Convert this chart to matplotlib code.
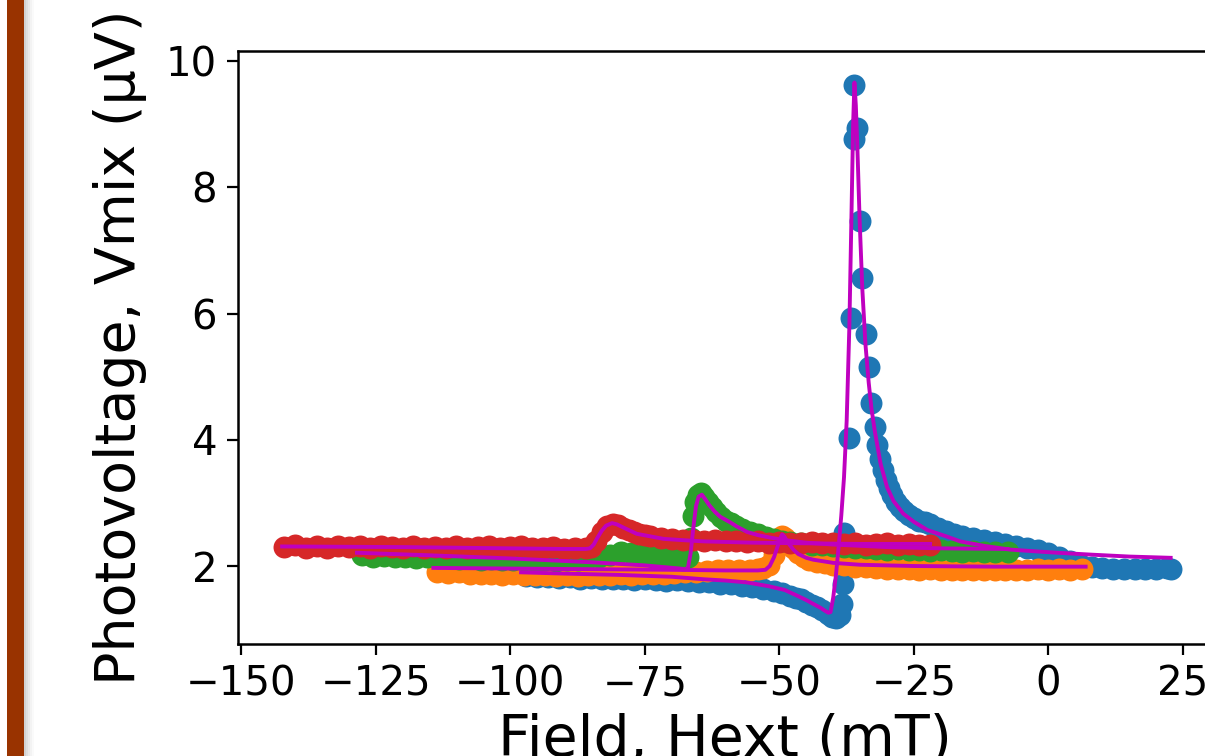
##########################################################
# Photovoltage vs external field, 4 sweeps + fit curves
##########################################################

import numpy as np
import matplotlib
matplotlib.use('Agg')
import matplotlib.pyplot as plt
from matplotlib.patches import Rectangle


##########################################################
## Part 1:  Data
##########################################################

# blue sweep
blue_H = [-97, -95, -93, -91, -89, -87, -85, -83, -81, -79, -77, -75, -73, -71, -69,
          -67, -65, -63, -61, -59, -57, -55, -53, -51, -49.5, -48, -47, -46, -45, -44,
          -43, -42, -41, -40.2, -39.4, -38.8, -38.4, -38.1, -38.0, -37.1, -36.7, -36.2,
          -36.06, -35.6, -35.1, -34.6, -34.0, -33.4, -32.9, -32.3, -31.8, -31.3, -30.8,
          -30.2, -29.6, -29.0, -28.3, -27.6, -26.8, -26.0, -25.0, -24.0, -23.0, -22.0,
          -20.5, -19.0, -17.5, -16.0, -14.0, -12.0, -10.0, -8.0, -6.0, -4.0, -2.0, 0.0,
          2.0, 4.0, 6.0, 8.0, 10.0, 12.0, 14.0, 16.0, 18.0, 20.0, 22.0, 22.7]
blue_V = [1.84, 1.82, 1.83, 1.81, 1.82, 1.80, 1.81, 1.79, 1.80, 1.80, 1.78, 1.79, 1.78, 1.77, 1.78,
          1.76, 1.75, 1.74, 1.72, 1.71, 1.69, 1.67, 1.64, 1.60, 1.57, 1.53, 1.50, 1.47, 1.43, 1.39,
          1.35, 1.30, 1.24, 1.19, 1.17, 1.22, 1.40, 1.72, 2.52, 4.03, 5.93, 8.76,
          9.62, 8.94, 7.46, 6.56, 5.67, 5.15, 4.59, 4.21, 3.92, 3.70, 3.52,
          3.37, 3.24, 3.12, 3.02, 2.94, 2.87, 2.81, 2.76, 2.72, 2.69, 2.66,
          2.61, 2.56, 2.51, 2.47, 2.44, 2.41, 2.38, 2.35, 2.32, 2.29, 2.25, 2.21,
          2.15, 2.08, 2.02, 1.99, 1.97, 1.96, 1.95, 1.96, 1.95, 1.96, 1.97, 1.96]

# orange sweep
orange_H = [-113.6, -111.5, -109.5, -107.5, -105.5, -103.5, -101.5, -99.5, -97.5, -95.5,
            -93.5, -91.5, -89.5, -87.5, -85.5, -83.5, -81.5, -79.5, -77.5, -75.5, -73.5,
            -71.5, -69.5, -67.5, -65.5, -63.5, -61.5, -59.5, -57.5, -55.5, -54, -53, -52,
            -51, -50.3, -49.6, -49.0, -48.3, -47.5, -46.5, -45.5, -44.5, -43.0, -41.5,
            -40, -38, -36, -34, -32, -30, -28, -26, -24, -22, -20, -18, -16, -14, -12,
            -10, -8, -6, -4, -2, 0, 2, 4, 6.3]
orange_V = [1.91, 1.89, 1.90, 1.88, 1.87, 1.88, 1.86, 1.87, 1.85, 1.86,
            1.85, 1.84, 1.85, 1.84, 1.85, 1.86, 1.85, 1.87, 1.86, 1.87, 1.88,
            1.87, 1.89, 1.90, 1.91, 1.92, 1.93, 1.93, 1.94, 1.94, 1.95, 1.97, 2.02,
            2.18, 2.36, 2.47, 2.45, 2.38, 2.28, 2.20, 2.14, 2.10, 2.06, 2.04,
            2.02, 2.01, 1.99, 1.98, 1.97, 1.96, 1.95, 1.96, 1.94, 1.95, 1.94, 1.93, 1.94, 1.93, 1.94,
            1.93, 1.94, 1.93, 1.94, 1.95, 1.94, 1.95, 1.94, 1.95]

# green sweep
green_H = [-127.5, -125.5, -123.5, -121.5, -119.5, -117.5, -115.5, -113.5, -111.5, -109.5,
           -107.5, -105.5, -103.5, -101.5, -99.5, -97.5, -95.5, -93.5, -91.5, -89.5,
           -87.5, -85.5, -83.5, -81.5, -79.5, -77.5, -75.5, -73.5, -71.5, -69.5, -68,
           -67, -66.5, -66.1, -65.7, -65.2, -64.6, -64.0, -63.3, -62.5, -61.7, -60.8,
           -59.9, -59.0, -58.0, -57.0, -55.5, -54.0, -52.5, -51.0, -49.5, -48, -46, -44,
           -42, -40, -38, -36, -34, -32, -30, -28, -26, -24, -22, -20, -18, -16, -14,
           -12, -10, -7.6]
green_V = [2.17, 2.15, 2.16, 2.14, 2.15, 2.13, 2.14, 2.12, 2.13, 2.11,
           2.12, 2.10, 2.11, 2.10, 2.09, 2.10, 2.08, 2.09, 2.08, 2.09,
           2.10, 2.12, 2.14, 2.18, 2.22, 2.20, 2.17, 2.15, 2.13, 2.11, 2.10,
           2.14, 2.45, 2.80, 3.02, 3.13, 3.15, 3.10, 3.02, 2.94, 2.86, 2.78,
           2.72, 2.68, 2.63, 2.59, 2.54, 2.50, 2.46, 2.43, 2.40, 2.38, 2.36, 2.34,
           2.33, 2.31, 2.30, 2.29, 2.28, 2.27, 2.26, 2.27, 2.25, 2.26, 2.24, 2.25, 2.24, 2.23, 2.24,
           2.22, 2.23, 2.22]

# red sweep
red_H = [-142, -140, -138, -136, -134, -132, -130, -128, -126, -124, -122, -120, -118,
         -116, -114, -112, -110, -108, -106, -104, -102, -100, -98, -96, -94, -92, -90,
         -88, -86, -85, -84, -83, -82, -81, -80, -79, -78, -77, -76, -75, -74, -72, -70,
         -68, -66, -64, -62, -60, -58, -56, -54, -52, -50, -48, -46, -44, -42, -40, -38,
         -36, -34, -32, -30, -28, -26, -24, -22]
red_V = [2.30, 2.33, 2.29, 2.31, 2.28, 2.31, 2.30, 2.32, 2.29, 2.31, 2.30, 2.28, 2.31,
         2.29, 2.30, 2.28, 2.31, 2.29, 2.30, 2.31, 2.28, 2.30, 2.32, 2.29, 2.28, 2.30, 2.27,
         2.29, 2.28, 2.30, 2.40, 2.54, 2.63, 2.66, 2.65, 2.61, 2.57, 2.54, 2.51, 2.49, 2.47, 2.45, 2.43,
         2.42, 2.41, 2.40, 2.41, 2.39, 2.40, 2.38, 2.39, 2.37, 2.38, 2.36, 2.37, 2.38, 2.36, 2.37, 2.35,
         2.36, 2.34, 2.35, 2.36, 2.34, 2.35, 2.33, 2.34]

# fit curves (magenta)
blue_fit_H = [-98, -90, -80, -70, -64, -60, -56, -52, -49, -46.7, -45, -43.5, -42.4, -41.5,
              -40.9, -40.5, -40.0, -39.5, -39.0, -38.5, -38.0, -37.5, -37.0, -36.6, -36.3,
              -36.06, -35.8, -35.5, -35.1, -34.6, -34.0, -33.4, -32.9, -32.3, -31.2, -30.0,
              -28.8, -27.0, -25.0, -22.5, -19.0, -16.4, -12.0, -7.1, -2.0, 1.7, 8.0, 15.0, 22.7]
blue_fit_V = [1.90, 1.88, 1.86, 1.83, 1.79, 1.77, 1.74, 1.68, 1.62, 1.53, 1.46, 1.39, 1.34, 1.29,
              1.26, 1.27, 1.50, 1.85, 2.30, 2.80, 3.40, 4.30, 5.80, 7.60, 9.00,
              9.66, 9.30, 8.60, 7.50, 6.40, 5.50, 4.90, 4.50, 4.15, 3.62, 3.25,
              3.03, 2.83, 2.70, 2.57, 2.47, 2.39, 2.32, 2.26, 2.23, 2.21, 2.18, 2.15, 2.13]

orange_fit_H = [-114.3, -100, -85, -70, -60, -54, -52.6, -51.8, -51.0, -50.3, -49.8, -49.5,
                -49.1, -48.5, -47.4, -46.5, -45.0, -43.7, -40.0, -35.0, -25.0, -10.0, 6.9]
orange_fit_V = [1.97, 1.96, 1.95, 1.94, 1.93, 1.93, 1.94, 2.00, 2.14, 2.32, 2.45, 2.50,
                2.47, 2.38, 2.26, 2.19, 2.13, 2.10, 2.05, 2.02, 2.00, 1.99, 1.99]

green_fit_H = [-128.5, -115, -100, -85, -75, -68.5, -67.5, -67.0, -66.5, -66.0, -65.5, -65.0,
               -64.4, -63.8, -63.0, -62.0, -61.0, -59.1, -58.0, -56.0, -54.0, -51.7, -49.0,
               -45.0, -40.0, -30.0, -20.0, -7.6]
green_fit_V = [2.21, 2.17, 2.12, 2.06, 2.01, 1.96, 1.95, 1.97, 2.20, 2.60, 2.95, 3.10,
               3.13, 3.06, 2.96, 2.86, 2.78, 2.69, 2.63, 2.54, 2.49, 2.45, 2.41,
               2.37, 2.34, 2.30, 2.28, 2.27]

red_fit_H = [-142.4, -120, -100, -90, -86, -85.2, -84.5, -83.8, -83.0, -82.2, -81.1, -80.2,
             -79.0, -77.5, -76.5, -74.0, -71.5, -68.0, -64.0, -55.0, -45.0, -35.0, -22.0]
red_fit_V = [2.31, 2.30, 2.28, 2.27, 2.27, 2.28, 2.34, 2.45, 2.56, 2.64, 2.68, 2.66,
             2.61, 2.55, 2.51, 2.47, 2.43, 2.41, 2.39, 2.37, 2.36, 2.35, 2.35]

xticks = [-150, -125, -100, -75, -50, -25, 0, 25]
yticks = [2, 4, 6, 8, 10]


##########################################################
## Part 2:  Plot
##########################################################

fig = plt.figure(figsize=(12.05, 7.56), dpi=100)

# brown bar with a little shadow on the left edge
for i, a in enumerate([0.35, 0.25, 0.16, 0.09, 0.04]):
    fig.add_artist(Rectangle(((24 + 2 * i) / 1205, 0), 2 / 1205, 1,
                             transform=fig.transFigure, color='gray', alpha=a, lw=0))
fig.add_artist(Rectangle((7 / 1205, 0), 17 / 1205, 1, transform=fig.transFigure,
                         color='#993300', lw=0))

ax = fig.add_axes([0.1975, 0.1481, 0.8075, 0.7845])

ms = 250
ax.scatter(blue_H, blue_V, s=ms, color='C0', lw=0)
ax.scatter(orange_H, orange_V, s=ms, color='C1', lw=0)
ax.scatter(green_H, green_V, s=ms, color='C2', lw=0)
ax.scatter(red_H, red_V, s=ms, color='C3', lw=0)

for H, V in [(blue_fit_H, blue_fit_V), (orange_fit_H, orange_fit_V),
             (green_fit_H, green_fit_V), (red_fit_H, red_fit_V)]:
    ax.plot(H, V, color='m', lw=2.8)

ax.set_xlim(-150.6, 30.2)
ax.set_ylim(0.764, 10.16)
ax.set_xticks(xticks)
ax.set_yticks(yticks)
ax.tick_params(labelsize=29, length=8, width=1.6, pad=7)
for s in ax.spines.values():
    s.set_linewidth(1.8)

ax.set_xlabel('Field, Hext (mT)', fontsize=41, labelpad=6)
ax.set_ylabel('Photovoltage, Vmix (μV)', fontsize=40, labelpad=14)

fig.savefig('out.png', dpi=100)
